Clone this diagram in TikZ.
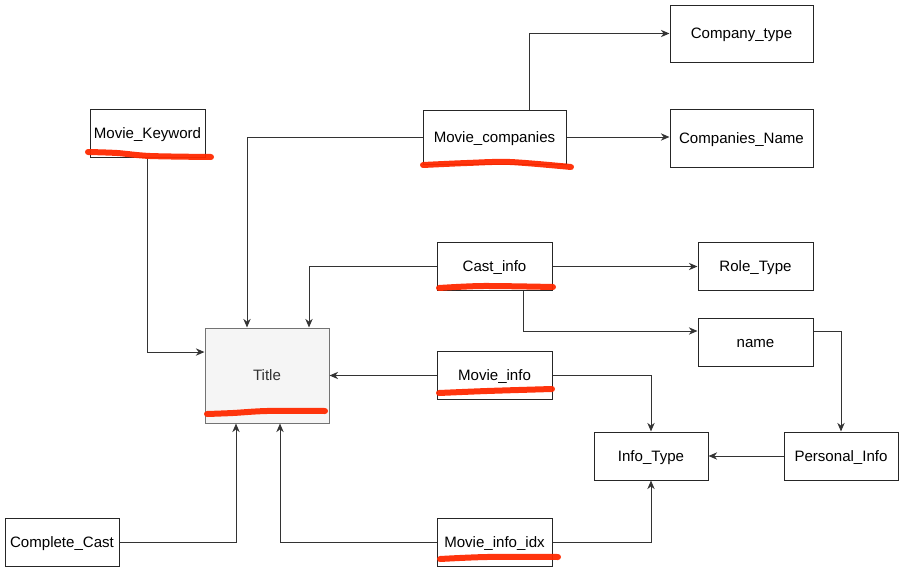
\documentclass[tikz,border=0pt]{standalone}
\usepackage{fontspec}
\setmainfont{Liberation Sans}
\usetikzlibrary{arrows.meta}
\definecolor{scribble}{HTML}{FF2A00}
\definecolor{titlefill}{HTML}{F5F5F5}
\begin{document}
\begin{tikzpicture}[x=0.75pt,y=-0.75pt,
    tbl/.style={draw=black!85,line width=0.75pt,fill=white,minimum width=86.25pt,minimum height=36pt,inner sep=0pt,text height=8.1pt,text depth=0pt,font=\fontsize{11.3}{13}\selectfont},
    arr/.style={draw=black!80,line width=0.75pt,-{Stealth[length=6.5pt,width=5.5pt]}},
    hl/.style={scribble,line width=4.5pt,line cap=round,opacity=0.95}]
        \useasboundingbox (0,0) rectangle (904,571);

        \node[tbl,draw=black!55,fill=titlefill,text=black!80,minimum width=93pt,minimum height=71.25pt] (title) at (267,375.5) {Title};
        \node[tbl] (mk) at (147.5,133) {Movie\_Keyword};
        \node[tbl,minimum width=107.25pt,minimum height=40.5pt] (mc) at (494.5,137) {Movie\_companies};
        \node[tbl,minimum width=107.25pt,minimum height=42.75pt] (ct) at (741.5,33.5) {Company\_type};
        \node[tbl,minimum width=107.25pt,minimum height=43.5pt] (cn) at (741.5,138) {Companies\_Name};
        \node[tbl] (ci) at (494.5,266.5) {Cast\_info};
        \node[tbl] (rt) at (755.5,266.5) {Role\_Type};
        \node[tbl] (nm) at (755.5,342) {name};
        \node[tbl] (mi) at (494.5,375.5) {Movie\_info};
        \node[tbl,minimum width=85.5pt] (it) at (651,456) {Info\_Type};
        \node[tbl,minimum width=85.5pt] (pi) at (841,456) {Personal\_Info};
        \node[tbl] (mii) at (494.5,542) {Movie\_info\_idx};
        \node[tbl,minimum width=85.5pt] (cc) at (62,542) {Complete\_Cast};

        % into Title
        \draw[arr] (mk.south) |- ([yshift=17.6pt]title.west);
        \draw[arr] (mc.west) -| ([xshift=-15pt]title.north);
        \draw[arr] (ci.west) -| ([xshift=31.5pt]title.north);
        \draw[arr] (mi.west) -- (title.east);
        \draw[arr] (cc.east) -| ([xshift=-23.25pt]title.south);
        \draw[arr] (mii.west) -| ([xshift=9.75pt]title.south);

        % right side
        \draw[arr] ([xshift=26.6pt]mc.north) |- (ct.west);
        \draw[arr] (mc.east) -- (mc.east -| cn.west);
        \draw[arr] (ci.east) -- (rt.west);
        \draw[arr] ([xshift=21.4pt]ci.south) |- ([yshift=8.25pt]nm.west);
        \draw[arr] (mi.east) -| (it.north);
        \draw[arr] (mii.east) -| (it.south);
        \draw[arr] ([yshift=8.25pt]nm.east) -| (pi.north);
        \draw[arr] (pi.west) -- (it.east);

        % red marks
        \draw[hl] plot[smooth] coordinates {(88,152) (117,153) (150,156) (211,157)};
        \draw[hl] plot[smooth] coordinates {(207,414) (233,413) (267,411) (325,411)};
        \draw[hl] plot[smooth] coordinates {(423,165) (467,163) (510,162) (571,167)};
        \draw[hl] plot[smooth] coordinates {(439,288) (483,286) (553,287)};
        \draw[hl] plot[smooth] coordinates {(439,393) (487,391) (552,389)};
        \draw[hl] plot[smooth] coordinates {(440,559) (487,557) (558,557)};
    \end{tikzpicture}
\end{document}
